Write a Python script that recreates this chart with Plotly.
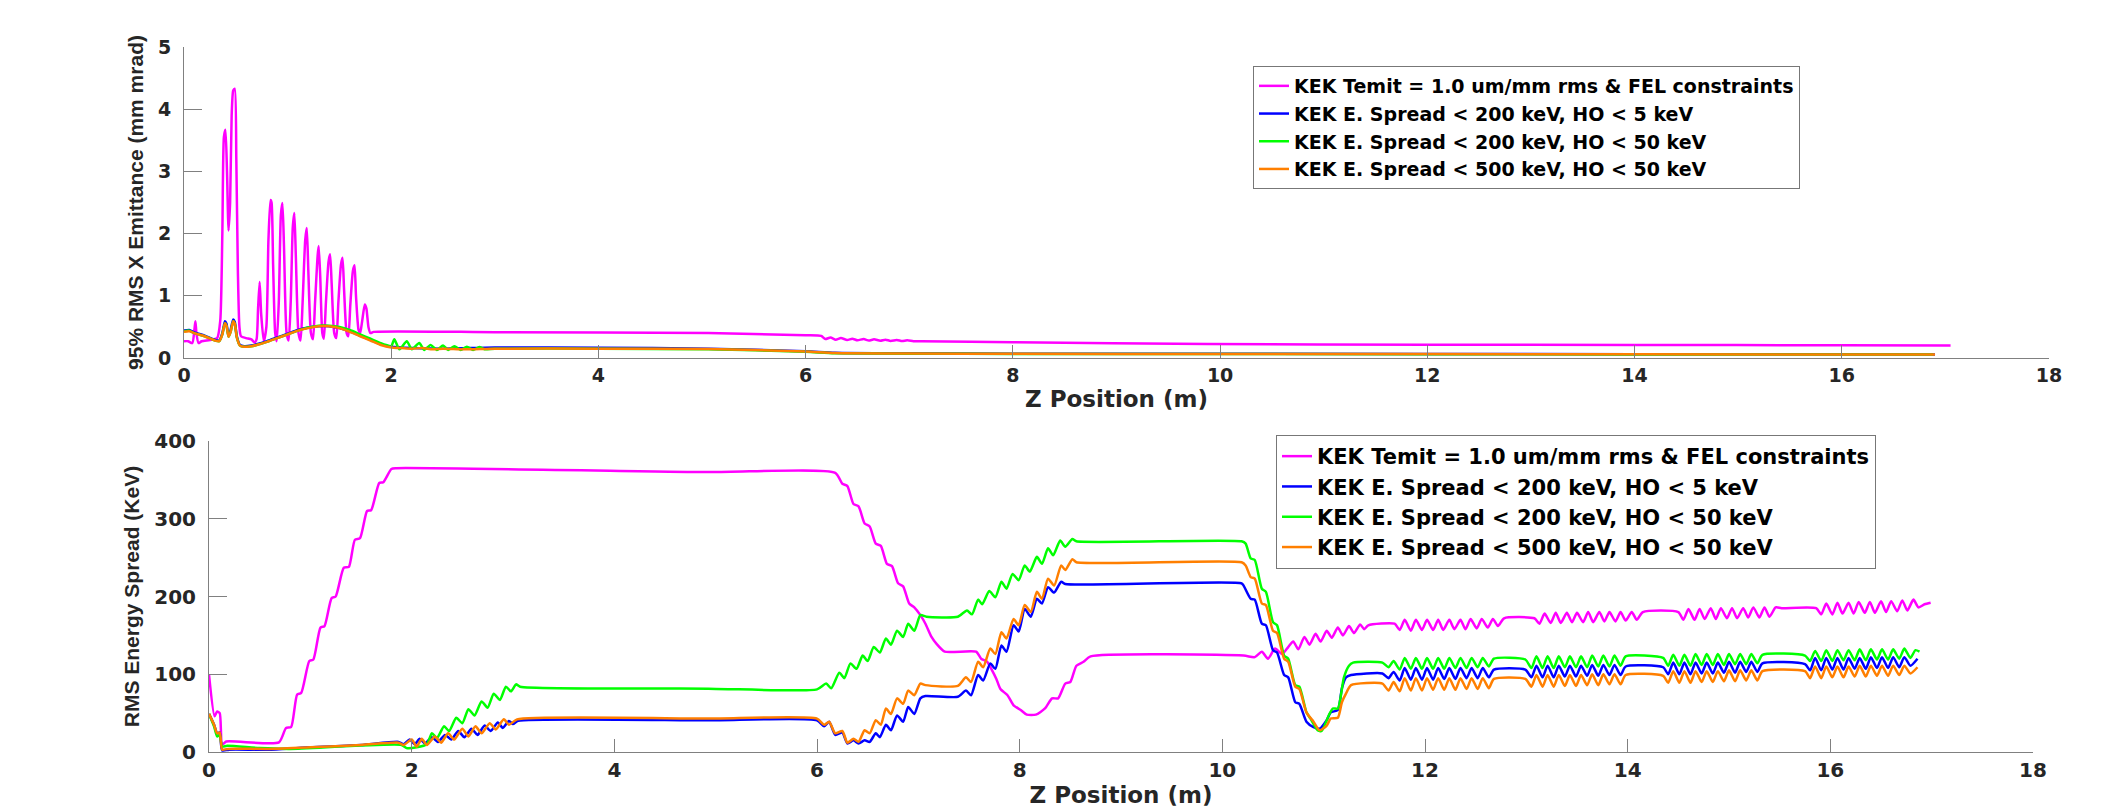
import plotly.graph_objects as go

# ---------------- data ----------------
series_names = [
    "KEK Temit = 1.0 um/mm rms & FEL constraints",
    "KEK E. Spread < 200 keV, HO < 5 keV",
    "KEK E. Spread < 200 keV, HO < 50 keV",
    "KEK E. Spread < 500 keV, HO < 50 keV",
]
series_colors = ["#ff00ff", "#0000ff", "#00ff00", "#ff7f00"]

x_ticks = [0, 2, 4, 6, 8, 10, 12, 14, 16, 18]
emit_ticks = [0, 1, 2, 3, 4, 5]
spread_ticks = [0, 100, 200, 300, 400]

# Top panel: 95% RMS X emittance (mm mrad) vs Z (m); (z, value) pairs
emit_temit = [
    (0.00, 0.27), (0.04, 0.27), (0.08, 0.24), (0.10, 0.45), (0.11, 0.59), (0.12, 0.40),
    (0.14, 0.24), (0.17, 0.27), (0.25, 0.29), (0.32, 0.32), (0.35, 0.60), (0.37, 2.00),
    (0.385, 3.55), (0.40, 3.67), (0.415, 3.00), (0.43, 2.05), (0.445, 2.50), (0.46, 3.90),
    (0.475, 4.30), (0.49, 4.33), (0.505, 3.20), (0.52, 1.40), (0.535, 0.50), (0.55, 0.35),
    (0.60, 0.32), (0.65, 0.30), (0.68, 0.25), (0.70, 0.30), (0.715, 0.80), (0.73, 1.22),
    (0.745, 0.70), (0.77, 0.27), (0.795, 0.50), (0.815, 1.90), (0.835, 2.54), (0.845, 2.50),
    (0.86, 1.50), (0.88, 0.40), (0.895, 0.27), (0.915, 0.90), (0.935, 2.30), (0.95, 2.49),
    (0.965, 1.80), (0.99, 0.40), (1.01, 0.28), (1.03, 0.90), (1.05, 2.10), (1.065, 2.33),
    (1.08, 1.60), (1.105, 0.40), (1.125, 0.28), (1.145, 0.90), (1.17, 1.90), (1.185, 2.09),
    (1.20, 1.40), (1.225, 0.40), (1.245, 0.30), (1.265, 0.90), (1.29, 1.65), (1.30, 1.80),
    (1.315, 1.30), (1.335, 0.40), (1.35, 0.31), (1.37, 0.90), (1.395, 1.55), (1.41, 1.67),
    (1.425, 1.20), (1.45, 0.40), (1.47, 0.32), (1.49, 0.90), (1.515, 1.50), (1.53, 1.61),
    (1.545, 1.10), (1.57, 0.40), (1.586, 0.35), (1.605, 0.85), (1.63, 1.40), (1.646, 1.49),
    (1.66, 1.00), (1.685, 0.45), (1.70, 0.40), (1.72, 0.60), (1.745, 0.86), (1.76, 0.80),
    (1.78, 0.50), (1.80, 0.40), (1.83, 0.42), (3.00, 0.415), (5.06, 0.40), (6.00, 0.365),
    (6.15, 0.355), (6.19, 0.305), (6.24, 0.33), (6.29, 0.295), (6.34, 0.32), (6.40, 0.29),
    (6.45, 0.31), (6.50, 0.285), (6.56, 0.305), (6.61, 0.28), (6.66, 0.30), (6.72, 0.278),
    (6.77, 0.295), (6.82, 0.275), (6.88, 0.29), (6.93, 0.272), (6.98, 0.285), (7.04, 0.27),
    (7.12, 0.27), (8.00, 0.255), (9.88, 0.225), (12.0, 0.215), (14.0, 0.21), (16.0, 0.205),
    (17.05, 0.20),
]
emit_es200_ho5 = [
    (0.00, 0.44), (0.05, 0.45), (0.10, 0.41), (0.20, 0.36), (0.30, 0.29), (0.34, 0.28),
    (0.37, 0.40), (0.395, 0.59), (0.41, 0.55), (0.43, 0.36), (0.45, 0.45), (0.475, 0.62),
    (0.49, 0.58), (0.51, 0.35), (0.54, 0.21), (0.58, 0.19), (0.65, 0.20), (0.70, 0.22),
    (0.80, 0.27), (0.90, 0.33), (1.00, 0.39), (1.10, 0.45), (1.20, 0.49), (1.30, 0.51),
    (1.40, 0.51), (1.50, 0.48), (1.60, 0.43), (1.70, 0.36), (1.80, 0.29), (1.90, 0.22),
    (2.00, 0.18), (2.20, 0.16), (2.50, 0.15), (3.00, 0.17), (4.00, 0.165), (5.06, 0.15),
    (6.00, 0.11), (6.28, 0.085), (7.00, 0.075), (8.00, 0.07), (10.0, 0.068), (14.0, 0.062),
    (16.9, 0.058),
]
emit_es200_ho50 = [
    (0.00, 0.43), (0.05, 0.44), (0.10, 0.40), (0.20, 0.35), (0.30, 0.28), (0.34, 0.27),
    (0.37, 0.38), (0.395, 0.56), (0.41, 0.52), (0.43, 0.34), (0.45, 0.42), (0.475, 0.59),
    (0.49, 0.55), (0.51, 0.33), (0.54, 0.20), (0.58, 0.18), (0.65, 0.19), (0.70, 0.21),
    (0.80, 0.26), (0.90, 0.32), (1.00, 0.38), (1.10, 0.44), (1.20, 0.49), (1.30, 0.52),
    (1.40, 0.52), (1.50, 0.50), (1.60, 0.45), (1.70, 0.38), (1.80, 0.31), (1.90, 0.24),
    (1.95, 0.21), (2.00, 0.19), (2.03, 0.30), (2.08, 0.14), (2.15, 0.27), (2.20, 0.14),
    (2.27, 0.24), (2.32, 0.13), (2.38, 0.21), (2.44, 0.13), (2.50, 0.20), (2.55, 0.13),
    (2.61, 0.19), (2.67, 0.13), (2.73, 0.18), (2.79, 0.13), (2.85, 0.175), (2.90, 0.14),
    (3.00, 0.15), (4.00, 0.15), (5.06, 0.14), (6.00, 0.10), (6.28, 0.078), (7.00, 0.07),
    (8.00, 0.066), (10.0, 0.063), (14.0, 0.058), (16.88, 0.055),
]
emit_es500_ho50 = [
    (0.00, 0.42), (0.05, 0.43), (0.10, 0.40), (0.20, 0.35), (0.30, 0.28), (0.34, 0.27),
    (0.37, 0.38), (0.395, 0.56), (0.41, 0.52), (0.43, 0.34), (0.45, 0.42), (0.475, 0.59),
    (0.49, 0.55), (0.51, 0.33), (0.54, 0.20), (0.58, 0.18), (0.65, 0.19), (0.70, 0.21),
    (0.80, 0.26), (0.90, 0.32), (1.00, 0.38), (1.10, 0.44), (1.20, 0.48), (1.30, 0.51),
    (1.40, 0.51), (1.50, 0.48), (1.60, 0.42), (1.70, 0.35), (1.80, 0.28), (1.90, 0.21),
    (2.00, 0.17), (2.10, 0.16), (2.20, 0.15), (2.30, 0.16), (2.40, 0.14), (2.50, 0.15),
    (2.70, 0.14), (3.00, 0.15), (4.00, 0.15), (5.06, 0.145), (6.00, 0.105), (6.28, 0.08),
    (7.00, 0.072), (8.00, 0.068), (10.0, 0.065), (14.0, 0.06), (16.9, 0.055),
]

# Bottom panel: RMS energy spread (keV) vs Z (m); (z, value) pairs
spread_temit = [
    (0.00, 99.6), (0.055, 46), (0.08, 52), (0.106, 50), (0.13, 9.4), (0.17, 13.5),
    (0.69, 12.4), (0.76, 31), (0.81, 32), (0.87, 74), (0.91, 76), (0.99, 117), (1.03, 119),
    (1.10, 160), (1.14, 162), (1.21, 198), (1.25, 200), (1.33, 237), (1.38, 238),
    (1.44, 273), (1.49, 275), (1.56, 310), (1.60, 311), (1.68, 346), (1.72, 347),
    (1.80, 364), (1.85, 365), (4.93, 360), (6.18, 359), (6.25, 345), (6.30, 342),
    (6.36, 319), (6.41, 316), (6.47, 294), (6.52, 290), (6.58, 268), (6.63, 265),
    (6.69, 242), (6.74, 239), (6.80, 217), (6.85, 213), (6.91, 191), (6.96, 186),
    (7.02, 176), (7.07, 165), (7.13, 148), (7.18, 139), (7.26, 129), (7.57, 129),
    (7.62, 120), (7.68, 116), (7.72, 107), (7.77, 94), (7.81, 81), (7.88, 73), (7.94, 60),
    (8.01, 54), (8.07, 48), (8.16, 48), (8.25, 56), (8.32, 69), (8.38, 69), (8.45, 88),
    (8.50, 90), (8.56, 111), (8.63, 116), (8.70, 123), (10.21, 124), (10.32, 122),
    (10.39, 129), (10.45, 120), (10.52, 133), (10.59, 126), (10.65, 135), (10.70, 142),
    (10.75, 132), (10.81, 148), (10.86, 138), (10.92, 152), (10.97, 142), (11.03, 156),
    (11.08, 147), (11.14, 160), (11.19, 150), (11.25, 162), (11.30, 153), (11.36, 164),
    (11.40, 158), (11.44, 163), (11.70, 165), (11.75, 157), (11.80, 170), (11.86, 156),
    (11.91, 170), (11.97, 157), (12.02, 170), (12.08, 157), (12.13, 170), (12.18, 157),
    (12.24, 170), (12.29, 158), (12.35, 170), (12.40, 158), (12.45, 171), (12.51, 159),
    (12.56, 171), (12.62, 160), (12.67, 171), (12.72, 162), (12.78, 172), (13.08, 172),
    (13.13, 165), (13.18, 178), (13.24, 166), (13.29, 179), (13.34, 166), (13.40, 179),
    (13.45, 167), (13.50, 179), (13.56, 167), (13.61, 180), (13.66, 167), (13.72, 180),
    (13.77, 168), (13.82, 180), (13.88, 168), (13.93, 180), (13.98, 169), (14.04, 180),
    (14.09, 170), (14.15, 180), (14.50, 180), (14.55, 170), (14.60, 184), (14.66, 170),
    (14.71, 184), (14.76, 171), (14.82, 185), (14.87, 171), (14.92, 185), (14.98, 172),
    (15.03, 185), (15.08, 172), (15.14, 185), (15.19, 173), (15.24, 186), (15.30, 173),
    (15.35, 186), (15.40, 174), (15.46, 186), (15.52, 185), (15.86, 185), (15.91, 177),
    (15.96, 191), (16.02, 177), (16.07, 192), (16.12, 178), (16.18, 192), (16.23, 178),
    (16.28, 193), (16.34, 179), (16.39, 193), (16.44, 179), (16.50, 194), (16.55, 180),
    (16.60, 194), (16.66, 181), (16.71, 195), (16.76, 182), (16.82, 196), (16.87, 186),
    (16.93, 190), (16.99, 192),
]
spread_es200_ho5 = [
    (0.00, 49), (0.05, 35), (0.08, 24), (0.106, 25), (0.13, 2), (0.20, 3), (0.60, 3),
    (1.00, 6), (1.50, 9), (1.87, 13), (1.92, 10), (1.98, 16), (2.03, 10), (2.08, 17),
    (2.13, 11), (2.20, 19), (2.26, 13), (2.33, 22), (2.39, 16), (2.46, 27), (2.52, 19),
    (2.59, 30), (2.65, 22), (2.72, 34), (2.78, 27), (2.85, 38), (2.90, 31), (2.96, 40),
    (3.00, 36), (3.05, 40), (4.93, 40.7), (6.00, 40.7), (6.07, 33), (6.12, 39), (6.18, 22),
    (6.25, 25), (6.30, 11), (6.36, 15), (6.41, 11), (6.47, 15), (6.52, 13), (6.58, 24),
    (6.62, 19), (6.68, 35), (6.73, 28), (6.79, 47), (6.85, 39), (6.90, 58), (6.96, 49),
    (7.02, 69), (7.07, 72), (7.39, 71), (7.47, 79), (7.52, 73), (7.59, 99), (7.64, 92),
    (7.71, 114), (7.76, 107), (7.82, 137), (7.87, 129), (7.94, 163), (7.99, 155),
    (8.05, 184), (8.11, 174), (8.17, 197), (8.22, 191), (8.28, 212), (8.34, 205),
    (8.41, 219), (8.45, 216), (10.19, 217), (10.21, 214), (10.28, 197), (10.32, 196),
    (10.39, 165), (10.43, 163), (10.50, 131), (10.54, 128), (10.61, 99), (10.65, 96),
    (10.72, 64), (10.76, 62), (10.83, 39), (10.90, 32), (10.96, 30), (11.03, 41),
    (11.07, 51), (11.14, 54), (11.18, 82), (11.22, 96), (11.27, 99), (11.58, 101),
    (11.64, 95), (11.69, 103), (11.75, 92), (11.80, 108), (11.86, 93), (11.91, 108),
    (11.97, 93), (12.02, 108), (12.08, 93), (12.13, 108), (12.19, 94), (12.24, 108),
    (12.30, 94), (12.35, 108), (12.41, 95), (12.46, 108), (12.52, 95), (12.57, 108),
    (12.63, 96), (12.68, 106), (12.99, 106), (13.05, 96), (13.10, 111), (13.16, 96),
    (13.21, 111), (13.27, 96), (13.32, 111), (13.38, 97), (13.43, 111), (13.49, 97),
    (13.54, 111), (13.60, 98), (13.65, 112), (13.71, 98), (13.76, 112), (13.82, 99),
    (13.87, 112), (13.93, 99), (13.98, 110), (14.35, 109), (14.40, 100), (14.45, 115),
    (14.51, 100), (14.56, 115), (14.62, 100), (14.67, 115), (14.73, 101), (14.78, 115),
    (14.84, 101), (14.89, 115), (14.95, 102), (15.00, 116), (15.06, 102), (15.11, 116),
    (15.17, 103), (15.22, 116), (15.28, 103), (15.33, 114), (15.75, 113), (15.80, 105),
    (15.85, 121), (15.91, 105), (15.96, 121), (16.02, 106), (16.07, 121), (16.13, 106),
    (16.18, 121), (16.24, 107), (16.29, 121), (16.35, 107), (16.40, 122), (16.46, 108),
    (16.51, 122), (16.57, 108), (16.62, 122), (16.68, 109), (16.73, 122), (16.79, 111),
    (16.86, 120),
]
spread_es200_ho50 = [
    (0.00, 49), (0.05, 33), (0.08, 20), (0.106, 22), (0.13, 7), (0.18, 8), (0.50, 5),
    (0.80, 4), (1.90, 9), (1.95, 5), (2.05, 6), (2.15, 10), (2.20, 24), (2.25, 18),
    (2.32, 33), (2.37, 27), (2.44, 44), (2.50, 37), (2.56, 55), (2.62, 47), (2.69, 65),
    (2.75, 57), (2.81, 75), (2.87, 67), (2.93, 84), (2.98, 78), (3.03, 87), (3.07, 84),
    (4.93, 81.5), (6.00, 80.6), (6.09, 88), (6.14, 82), (6.22, 102), (6.27, 95),
    (6.33, 114), (6.39, 107), (6.45, 124), (6.50, 117), (6.56, 135), (6.62, 128),
    (6.68, 146), (6.73, 138), (6.79, 156), (6.85, 148), (6.90, 165), (6.96, 156),
    (7.02, 176), (7.08, 174), (7.39, 174), (7.48, 182), (7.53, 177), (7.59, 196),
    (7.63, 190), (7.70, 207), (7.76, 199), (7.82, 219), (7.87, 210), (7.93, 229),
    (7.99, 221), (8.05, 240), (8.10, 232), (8.17, 251), (8.22, 242), (8.28, 262),
    (8.33, 253), (8.40, 272), (8.45, 264), (8.52, 274), (8.56, 271), (10.19, 271),
    (10.23, 268), (10.28, 249), (10.32, 247), (10.39, 210), (10.43, 206), (10.50, 167),
    (10.54, 163), (10.61, 124), (10.65, 120), (10.72, 86), (10.76, 84), (10.83, 51),
    (10.87, 43), (10.94, 28), (10.98, 27), (11.05, 47), (11.09, 56), (11.14, 56),
    (11.20, 96), (11.25, 111), (11.29, 115), (11.58, 115), (11.64, 109), (11.69, 117),
    (11.75, 106), (11.80, 121), (11.86, 107), (11.91, 121), (11.97, 107), (12.02, 121),
    (12.08, 107), (12.13, 121), (12.19, 107), (12.24, 121), (12.30, 108), (12.35, 121),
    (12.41, 108), (12.46, 121), (12.52, 109), (12.57, 121), (12.63, 110), (12.68, 120),
    (12.99, 119), (13.05, 108), (13.10, 123), (13.16, 108), (13.21, 123), (13.27, 108),
    (13.32, 123), (13.38, 109), (13.43, 123), (13.49, 109), (13.54, 123), (13.60, 109),
    (13.65, 124), (13.71, 110), (13.76, 124), (13.82, 110), (13.87, 124), (13.93, 111),
    (13.98, 123), (14.35, 121), (14.40, 111), (14.45, 125), (14.51, 111), (14.56, 125),
    (14.62, 111), (14.67, 126), (14.73, 112), (14.78, 126), (14.84, 112), (14.89, 126),
    (14.95, 112), (15.00, 126), (15.06, 113), (15.11, 126), (15.17, 113), (15.22, 126),
    (15.28, 114), (15.33, 125), (15.75, 124), (15.80, 117), (15.85, 130), (15.91, 117),
    (15.96, 131), (16.02, 117), (16.07, 131), (16.13, 118), (16.18, 131), (16.24, 118),
    (16.29, 132), (16.35, 118), (16.40, 132), (16.46, 119), (16.51, 132), (16.57, 119),
    (16.62, 132), (16.68, 120), (16.73, 133), (16.79, 121), (16.84, 131), (16.88, 129),
]
spread_es500_ho50 = [
    (0.00, 49), (0.05, 35), (0.08, 24), (0.106, 25), (0.13, 3), (0.18, 4), (0.60, 4),
    (1.00, 6), (1.50, 9), (1.87, 12), (1.92, 9), (2.00, 16), (2.05, 7), (2.10, 17),
    (2.15, 9), (2.23, 20), (2.29, 12), (2.36, 24), (2.42, 16), (2.50, 30), (2.56, 20),
    (2.63, 33), (2.69, 24), (2.77, 37), (2.83, 29), (2.91, 42), (2.96, 35), (3.04, 42),
    (4.93, 43), (6.00, 43), (6.07, 35), (6.12, 39), (6.18, 24), (6.25, 27), (6.30, 12),
    (6.36, 17), (6.41, 13), (6.47, 28), (6.52, 24), (6.58, 41), (6.63, 35), (6.68, 56),
    (6.73, 49), (6.79, 69), (6.85, 62), (6.90, 79), (6.96, 73), (7.02, 88), (7.07, 86),
    (7.39, 85), (7.47, 96), (7.52, 90), (7.59, 116), (7.64, 109), (7.71, 133), (7.76, 126),
    (7.82, 154), (7.87, 146), (7.94, 171), (7.99, 163), (8.05, 189), (8.11, 180),
    (8.17, 206), (8.22, 197), (8.28, 223), (8.34, 214), (8.41, 240), (8.45, 234),
    (8.52, 248), (8.56, 244), (10.19, 244), (10.23, 240), (10.28, 225), (10.32, 223),
    (10.39, 191), (10.43, 189), (10.50, 156), (10.54, 153), (10.61, 120), (10.65, 116),
    (10.72, 84), (10.76, 81), (10.83, 51), (10.90, 39), (10.96, 28), (11.03, 34),
    (11.07, 43), (11.14, 44), (11.18, 64), (11.22, 75), (11.27, 86), (11.58, 88),
    (11.64, 79), (11.69, 90), (11.75, 78), (11.80, 95), (11.86, 79), (11.91, 95),
    (11.97, 79), (12.02, 95), (12.08, 80), (12.13, 95), (12.19, 80), (12.24, 95),
    (12.30, 80), (12.35, 95), (12.41, 81), (12.46, 95), (12.52, 81), (12.57, 95),
    (12.63, 82), (12.68, 94), (12.99, 94), (13.05, 84), (13.10, 99), (13.16, 84),
    (13.21, 99), (13.27, 84), (13.32, 99), (13.38, 85), (13.43, 99), (13.49, 85),
    (13.54, 99), (13.60, 86), (13.65, 100), (13.71, 86), (13.76, 100), (13.82, 87),
    (13.87, 100), (13.93, 87), (13.98, 99), (14.35, 98), (14.40, 89), (14.45, 104),
    (14.51, 89), (14.56, 104), (14.62, 89), (14.67, 104), (14.73, 90), (14.78, 104),
    (14.84, 90), (14.89, 104), (14.95, 91), (15.00, 105), (15.06, 91), (15.11, 105),
    (15.17, 92), (15.22, 105), (15.28, 92), (15.33, 104), (15.75, 104), (15.80, 95),
    (15.85, 110), (15.91, 95), (15.96, 110), (16.02, 96), (16.07, 110), (16.13, 96),
    (16.18, 110), (16.24, 97), (16.29, 111), (16.35, 97), (16.40, 111), (16.46, 98),
    (16.51, 111), (16.57, 98), (16.62, 111), (16.68, 99), (16.73, 111), (16.79, 101),
    (16.86, 109),
]

emit_series = [emit_temit, emit_es200_ho5, emit_es200_ho50, emit_es500_ho50]
spread_series = [spread_temit, spread_es200_ho5, spread_es200_ho50, spread_es500_ho50]

# ---------------- figure ----------------
W, H = 2122, 808
TXT = "#262626"
AX = "#808080"
WIDE = "DejaVu Sans, Verdana, sans-serif"
NARROW = "Liberation Sans, Arial, Helvetica, sans-serif"

fig = go.Figure()
for name, color, pts in zip(series_names, series_colors, emit_series):
    xs, ys = zip(*pts)
    fig.add_trace(go.Scatter(x=xs, y=ys, mode="lines", name=name,
                             line=dict(color=color, width=2.5, shape="spline",
                                       smoothing=0.6),
                             xaxis="x", yaxis="y", legend="legend"))
for name, color, pts in zip(series_names, series_colors, spread_series):
    xs, ys = zip(*pts)
    fig.add_trace(go.Scatter(x=xs, y=ys, mode="lines", name=name,
                             line=dict(color=color, width=2.5, shape="spline",
                                       smoothing=0.6),
                             xaxis="x2", yaxis="y2", legend="legend2"))


def px_x(p):
    return p / W


def px_y(p):
    return 1 - p / H


common_axis = dict(showline=True, linecolor=AX, linewidth=1, ticks="inside",
                   tickcolor=AX, tickwidth=1, showgrid=False, zeroline=False,
                   mirror=False, automargin=False)

fig.update_layout(
    width=W, height=H,
    margin=dict(l=0, r=0, t=0, b=0),
    paper_bgcolor="white", plot_bgcolor="white",
    showlegend=True,
    xaxis=dict(common_axis, domain=[px_x(176), px_x(2041)], range=[0, 18],
               tickvals=x_ticks, ticklen=13, anchor="y",
               tickfont=dict(family=WIDE, size=19, color=TXT, weight="bold"),
               title=dict(text="Z Position (m)", standoff=4,
                          font=dict(family=WIDE, size=23, color=TXT, weight="bold"))),
    yaxis=dict(common_axis, domain=[px_y(350), px_y(39)], range=[0, 5],
               tickvals=emit_ticks, ticklen=18, anchor="x", ticklabelstandoff=8,
               tickfont=dict(family=WIDE, size=19, color=TXT, weight="bold"),
               title=dict(text="95% RMS X Emittance (mm mrad)", standoff=8,
                          font=dict(family=NARROW, size=21, color=TXT, weight="bold"))),
    xaxis2=dict(common_axis, domain=[px_x(201), px_x(2025)], range=[0, 18],
                tickvals=x_ticks, ticklen=13, anchor="y2",
                tickfont=dict(family=WIDE, size=20, color=TXT, weight="bold"),
                title=dict(text="Z Position (m)", standoff=2,
                           font=dict(family=WIDE, size=23, color=TXT, weight="bold"))),
    yaxis2=dict(common_axis, domain=[px_y(744), px_y(433)], range=[0, 400],
                tickvals=spread_ticks, ticklen=18, anchor="x2", ticklabelstandoff=8,
                tickfont=dict(family=WIDE, size=20, color=TXT, weight="bold"),
                title=dict(text="RMS Energy Spread (KeV)", standoff=8,
                           font=dict(family=NARROW, size=21, color=TXT, weight="bold"))),
    legend=dict(x=px_x(1245), y=px_y(58), xanchor="left", yanchor="top",
                bgcolor="white", bordercolor="#777777", borderwidth=1,
                font=dict(family=WIDE, size=19, color="black", weight="bold"),
                tracegroupgap=0),
    legend2=dict(x=px_x(1268), y=px_y(427), xanchor="left", yanchor="top",
                 bgcolor="white", bordercolor="#777777", borderwidth=1,
                 font=dict(family=WIDE, size=21, color="black", weight="bold"),
                 tracegroupgap=0),
)

fig.write_html("out.html")
